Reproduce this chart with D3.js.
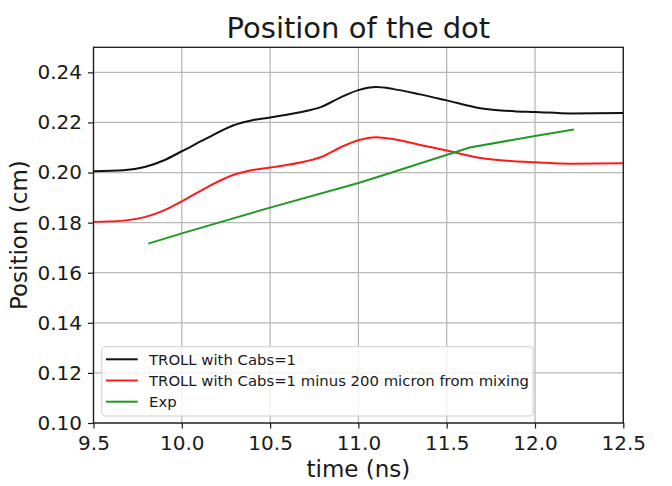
<!DOCTYPE html>
<html>
<head>
<meta charset="utf-8">
<script src="https://cdn.jsdelivr.net/npm/d3@7"></script>
<style>
  body { margin: 0; background: #fff; }
  text { font-family: "DejaVu Sans", sans-serif; fill: #1a1a1a; }
</style>
</head>
<body>
<div id="chart"></div>
<script>
const width = 672;
const height = 486;
const margin = { top: 47.3, right: 48.7, bottom: 63, left: 93.5 };

// data
const blackT = [9.5, 9.67, 9.79, 9.9, 10.0, 10.14, 10.29, 10.4, 10.5, 10.71, 10.79, 10.9, 11.0, 11.1, 11.2, 11.35, 11.5, 11.69, 11.88, 12.0, 12.2, 12.5];
const blackV = [0.2005, 0.2009, 0.2022, 0.2049, 0.2085, 0.2136, 0.2188, 0.2209, 0.2220, 0.2247, 0.2262, 0.2300, 0.2329, 0.2341, 0.2333, 0.2312, 0.2288, 0.2257, 0.2245, 0.2242, 0.2236, 0.2238];
const redT = [9.5, 9.67, 9.79, 9.9, 10.0, 10.14, 10.29, 10.4, 10.5, 10.71, 10.79, 10.9, 11.0, 11.1, 11.2, 11.35, 11.5, 11.69, 11.88, 12.0, 12.2, 12.5];
const redV = [0.1803, 0.1808, 0.1822, 0.1849, 0.1885, 0.1940, 0.1990, 0.2010, 0.2020, 0.2046, 0.2062, 0.2101, 0.2129, 0.2141, 0.2133, 0.2110, 0.2088, 0.2058, 0.2045, 0.2041, 0.2035, 0.2037];
const greenT = [9.81, 10.0, 10.5, 11.0, 11.1, 11.63, 12.0, 12.22];
const greenV = [0.1716, 0.1757, 0.1860, 0.1958, 0.1980, 0.2100, 0.2146, 0.2172];

const xTicks = [9.5, 10.0, 10.5, 11.0, 11.5, 12.0, 12.5];
const yTicks = [0.10, 0.12, 0.14, 0.16, 0.18, 0.20, 0.22, 0.24];
const labels = ["TROLL with Cabs=1", "TROLL with Cabs=1 minus 200 micron from mixing", "Exp"];
const colors = ["#111111", "#ff1a1a", "#229922"];

const series = [
  { name: labels[0], color: colors[0], pts: blackT.map((t, i) => [t, blackV[i]]), curve: d3.curveMonotoneX },
  { name: labels[1], color: colors[1], pts: redT.map((t, i) => [t, redV[i]]), curve: d3.curveMonotoneX },
  { name: labels[2], color: colors[2], pts: greenT.map((t, i) => [t, greenV[i]]), curve: d3.curveLinear }
];

const svg = d3.select('#chart')
  .append('svg')
  .attr('width', width)
  .attr('height', height);

const x = d3.scaleLinear()
  .domain([9.5, 12.5])
  .range([margin.left, width - margin.right]);

const y = d3.scaleLinear()
  .domain([0.10, 0.25])
  .range([height - margin.bottom, margin.top]);

// grid
const grid = svg.append('g').attr('stroke', '#b8b8b8').attr('stroke-width', 1.3);
grid.selectAll('line.gx')
  .data(xTicks)
  .join('line')
    .attr('class', 'gx')
    .attr('x1', d => x(d)).attr('x2', d => x(d))
    .attr('y1', y(0.10)).attr('y2', y(0.25));
grid.selectAll('line.gy')
  .data(yTicks)
  .join('line')
    .attr('class', 'gy')
    .attr('x1', x(9.5)).attr('x2', x(12.5))
    .attr('y1', d => y(d)).attr('y2', d => y(d));

// lines
const line = d3.line().x(d => x(d[0])).y(d => y(d[1]));
svg.append('g')
  .selectAll('path')
  .data(series)
  .join('path')
    .attr('fill', 'none')
    .attr('stroke', d => d.color)
    .attr('stroke-width', 2)
    .attr('d', d => line.curve(d.curve)(d.pts));

// frame
svg.append('rect')
  .attr('x', x(9.5)).attr('y', y(0.25))
  .attr('width', x(12.5) - x(9.5))
  .attr('height', y(0.10) - y(0.25))
  .attr('fill', 'none')
  .attr('stroke', '#1a1a1a')
  .attr('stroke-width', 1.3);

function xAxis(g) {
  g.attr('transform', `translate(0, ${y(0.10)})`)
    .call(d3.axisBottom(x).tickValues(xTicks).tickFormat(d3.format('.1f')).tickSize(5.5).tickPadding(7))
    .attr('font-size', '20px')
    .attr('font-family', '"DejaVu Sans", sans-serif');
  g.select('.domain').remove();
  g.selectAll('line').attr('stroke', '#1a1a1a').attr('stroke-width', 1.2);
}

function yAxis(g) {
  g.attr('transform', `translate(${x(9.5)}, 0)`)
    .call(d3.axisLeft(y).tickValues(yTicks).tickFormat(d3.format('.2f')).tickSize(5.5).tickPadding(6))
    .attr('font-size', '20px')
    .attr('font-family', '"DejaVu Sans", sans-serif');
  g.select('.domain').remove();
  g.selectAll('line').attr('stroke', '#1a1a1a').attr('stroke-width', 1.2);
}

svg.append('g').call(xAxis);
svg.append('g').call(yAxis);

// titles
svg.append('text')
  .attr('x', (x(9.5) + x(12.5)) / 2)
  .attr('y', 38.3)
  .attr('text-anchor', 'middle')
  .attr('font-size', '29px')
  .text('Position of the dot');

svg.append('text')
  .attr('x', (x(9.5) + x(12.5)) / 2)
  .attr('y', 477)
  .attr('text-anchor', 'middle')
  .attr('font-size', '23px')
  .text('time (ns)');

svg.append('text')
  .attr('transform', `translate(27, ${(y(0.10) + y(0.25)) / 2}) rotate(-90)`)
  .attr('text-anchor', 'middle')
  .attr('font-size', '23px')
  .text('Position (cm)');

// legend
const legend = svg.append('g').attr('transform', 'translate(101.7, 346.7)');
legend.append('rect')
  .attr('width', 431.3)
  .attr('height', 69.3)
  .attr('rx', 3)
  .attr('fill', 'rgba(255,255,255,0.8)')
  .attr('stroke', '#d0d0d0')
  .attr('stroke-width', 1);

const rows = legend.selectAll('g.row')
  .data(series)
  .join('g')
    .attr('class', 'row')
    .attr('transform', (d, i) => `translate(0, ${12.6 + i * 21.2})`);
rows.append('line')
  .attr('x1', 4.3).attr('x2', 36)
  .attr('stroke', d => d.color)
  .attr('stroke-width', 2);
rows.append('text')
  .attr('x', 47.3)
  .attr('dy', '0.36em')
  .attr('font-size', '14.85px')
  .text(d => d.name);
</script>
</body>
</html>
